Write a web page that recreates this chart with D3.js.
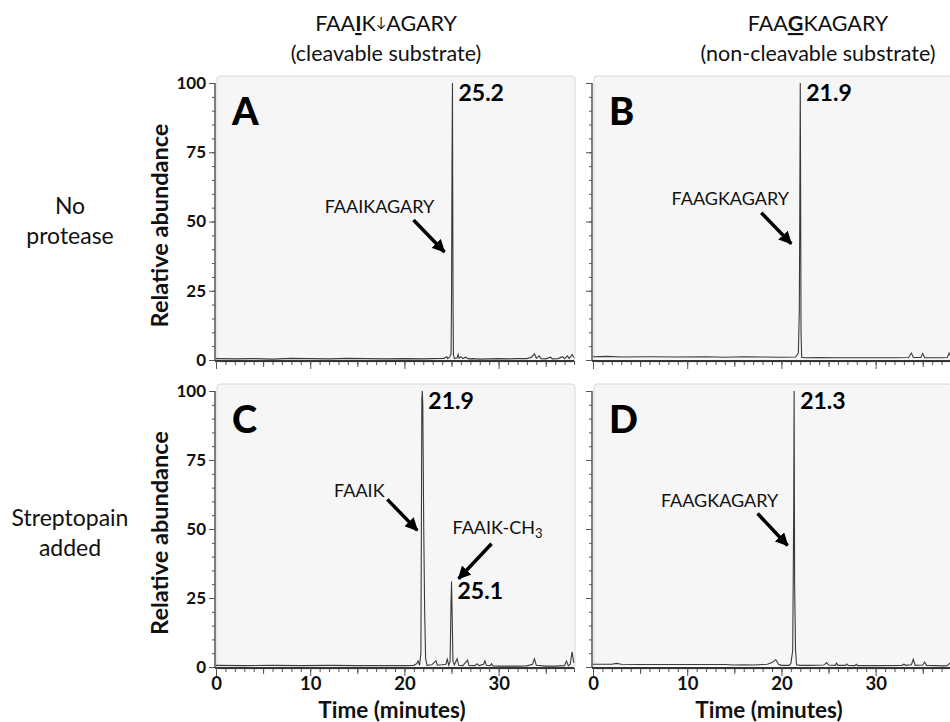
<!DOCTYPE html>
<html><head><meta charset="utf-8">
<script src="https://cdn.jsdelivr.net/npm/d3@7"></script>
<style>
html,body{margin:0;padding:0;background:#fff;}
svg{display:block;font-family:Lato,"Open Sans",sans-serif;}
</style></head>
<body>
<script>
// ---------- DATA ----------
const columnTitles = ["FAAIK↓AGARY", "FAAGKAGARY"];
const columnSubtitles = ["(cleavable substrate)", "(non-cleavable substrate)"];
const rowLabels = [["No", "protease"], ["Streptopain", "added"]];
const panelLetters = ["A", "B", "C", "D"];
const yMajorTicks = [0, 25, 50, 75, 100];
const xMajorTicks = [0, 10, 20, 30];
const xDomain = [0, 38];
const yAxisTitle = "Relative abundance";
const xAxisTitle = "Time (minutes)";

// Panel A: FAAIKAGARY, no protease
const timesA = [0,2,4,6,8,10,12,14,16,18,20,22,23,24.2,24.5,24.6,24.8,24.95,25.0,25.05,25.1,25.12,25.16,25.2,25.3,25.6,25.7,25.8,26.0,26.2,26.5,26.8,27.2,28,29,30,31,32,33,33.5,33.8,34.0,34.3,34.5,35,35.5,35.7,36.3,36.8,37.0,37.3,37.5,37.8,38];
const valuesA = [0.5,0.4,0.5,0.3,0.6,0.5,0.4,0.6,0.5,0.4,0.5,0.4,0.5,0.6,1.2,0.5,1.0,2,22,70,100,70,22,2,0.5,0.8,2.0,0.6,1.2,0.5,1.0,0.4,0.5,0.3,0.4,0.5,0.4,0.5,0.5,1.0,2.2,0.6,1.5,0.5,0.4,1.0,0.4,0.5,1.2,0.5,1.5,0.5,2.0,0.8];
// Panel B: FAAGKAGARY, no protease
const timesB = [0,1.5,3,6,9,12,14,16,18,20,21.5,21.8,21.9,21.95,22.0,22.03,22.08,22.15,22.5,24,26,28,30,32,33.5,33.8,34.0,34.8,35.0,35.2,36,37,37.6,37.8,38];
const valuesB = [1.2,1.3,1.1,1.2,1.1,1.2,1.0,1.2,1.1,1.0,1.1,2.5,18,55,100,70,10,1.0,0.8,0.9,0.8,0.8,0.8,0.8,0.9,2.5,0.9,0.9,2.3,0.8,0.8,0.8,0.9,2.5,1.0];
// Panel C: FAAIKAGARY + streptopain
const timesC = [0,3,6,9,12,15,18,20,21.0,21.3,21.45,21.6,21.75,21.85,21.9,21.95,22.05,22.15,22.25,22.4,22.9,23.2,23.35,23.5,24.0,24.4,24.55,24.7,24.85,24.95,25.0,25.05,25.15,25.3,25.6,25.75,26.2,26.7,26.85,27.5,27.7,27.9,28.4,28.55,28.7,29.1,29.25,29.4,30,31,32,33.0,33.6,33.8,34.0,35,36,37.0,37.2,37.4,37.6,37.8,37.95,38];
const valuesC = [0.6,0.5,0.6,0.5,0.6,0.5,0.5,0.5,0.6,1.2,2.2,0.6,5,97,100,95,50,20,3,0.6,0.8,1.8,2.3,0.7,0.8,1.0,2.8,0.7,2,24,31,22,2,0.8,3,0.6,0.5,2.5,0.6,0.5,1.2,0.5,1.0,2.2,0.6,0.5,1.2,0.4,0.3,0.3,0.3,0.4,1.0,3.0,0.6,0.3,0.3,0.5,2.2,0.4,1.0,5.5,2.0,1.5];
// Panel D: FAAGKAGARY + streptopain
const timesD = [0,2,2.5,3,5,8,11,14,15,16,17,18,18.5,19.0,19.4,19.7,20.0,20.8,21.0,21.2,21.3,21.35,21.4,21.5,21.6,22,23,24.5,24.8,25.0,25.7,25.85,26.0,26.8,26.95,27.1,27.8,27.95,28.1,30,32.8,33.0,33.2,33.8,34.0,34.2,35.0,35.2,35.4,36.5,37.3,37.6,37.9,38];
const valuesD = [1.0,1.0,1.3,1.0,0.9,0.9,0.9,0.9,0.7,0.8,0.7,0.9,1.0,1.6,2.6,1.0,0.6,0.6,1.2,6,55,100,30,6,0.8,0.6,0.6,0.7,1.6,0.7,0.6,1.4,0.6,0.6,1.1,0.6,0.5,1.0,0.5,0.5,0.6,1.0,0.6,0.8,2.8,0.6,0.7,1.8,0.6,0.5,0.4,0.5,1.5,1.0];

const peakLabels = [
  {panel:0, t:25.1, v:100, text:"25.2"},
  {panel:1, t:22.0, v:100, text:"21.9"},
  {panel:2, t:21.9, v:100, text:"21.9"},
  {panel:2, t:25.0, v:31,  text:"25.1"},
  {panel:3, t:21.35, v:100, text:"21.3"}
];
// arrow tip (data units) for each annotation
const annotations = [
  {panel:0, text:"FAAIKAGARY", t:25.1, v:39, tipDx:-8, dirX:-31, dirY:-32, tx:-65, ty:-39, anchor:"middle"},
  {panel:1, text:"FAAGKAGARY", t:22.0, v:42, tipDx:-9, dirX:-30, dirY:-31, tx:-61, ty:-39, anchor:"middle"},
  {panel:2, text:"FAAIK", t:21.9, v:49.5, tipDx:-5, dirX:-30, dirY:-31, tx:-58, ty:-33, anchor:"middle"},
  {panel:2, text:"FAAIK-CH", sub:"3", t:25.0, v:32, tipDx:7, dirX:33, dirY:-35, tx:-6, ty:-45, anchor:"start"},
  {panel:3, text:"FAAGKAGARY", t:21.4, v:44, tipDx:-7, dirX:-30, dirY:-32, tx:-68, ty:-39, anchor:"middle"}
];

// ---------- LAYOUT ----------
const W = 950, H = 722;
const panelW = 358;
const colX = [216, 593];
const rowY = [{top:83, bottom:360}, {top:391, bottom:667}];
const series = [[timesA, valuesA], [timesB, valuesB], [timesC, valuesC], [timesD, valuesD]];

const svg = d3.select("body").append("svg").attr("width", W).attr("height", H);

svg.append("defs").append("marker")
  .attr("id","arrowhead").attr("markerUnits","userSpaceOnUse")
  .attr("viewBox","0 0 12 12").attr("refX",11).attr("refY",6)
  .attr("markerWidth",13).attr("markerHeight",13).attr("orient","auto")
  .append("path").attr("d","M0,0 L12,6 L0,12 Z").attr("fill","#000");

const panels = [];
for (let r = 0; r < 2; r++) {
  for (let c = 0; c < 2; c++) {
    const idx = r*2 + c;
    const x = d3.scaleLinear().domain(xDomain).range([colX[c], colX[c] + panelW]);
    const y = d3.scaleLinear().domain([0, 100]).range([rowY[r].bottom, rowY[r].top]);
    panels.push({r, c, x, y});
    const g = svg.append("g");
    // background
    g.append("rect")
      .attr("x", colX[c] + 1).attr("y", rowY[r].top - 7)
      .attr("width", panelW).attr("height", rowY[r].bottom - rowY[r].top + 9)
      .attr("rx", 3).attr("fill", "#f6f6f6").attr("stroke", "#d6d6d6");
    // trace
    const [ts, vs] = series[idx];
    const pts = ts.map((t,i) => [t, vs[i]]);
    g.append("path").datum(pts)
      .attr("d", d3.line().x(d => x(d[0])).y(d => y(d[1])))
      .attr("fill","none").attr("stroke","#3a3a3a").attr("stroke-width",1.1);

    // y axis
    const axY = g.append("g").attr("transform", `translate(${colX[c]-1},0)`);
    axY.call(d3.axisLeft(y).tickValues(d3.range(0, 101, 5)).tickSize(3).tickFormat(""));
    axY.append("g").call(d3.axisLeft(y).tickValues(yMajorTicks).tickSize(6).tickPadding(3)
      .tickFormat(c === 0 ? d3.format("d") : ""));
    axY.selectAll(".domain").attr("stroke","#555");
    axY.selectAll(".tick line").attr("stroke","#555");
    axY.selectAll("text").attr("font-family","Lato").attr("font-weight","bold")
      .attr("font-size", 17).attr("fill","#111");
    axY.selectAll(".domain").attr("d", `M0,${rowY[r].top}V${rowY[r].bottom+1}`);

    // x axis
    const axX = g.append("g").attr("transform", `translate(0,${rowY[r].bottom+1})`);
    axX.call(d3.axisBottom(x).tickValues(d3.range(0, 39, 1)).tickSize(4).tickFormat(""));
    axX.append("g").call(d3.axisBottom(x).tickValues([5,15,25,35]).tickSize(6).tickFormat(""));
    axX.append("g").call(d3.axisBottom(x).tickValues(xMajorTicks).tickSize(8).tickPadding(1)
      .tickFormat(r === 1 ? d3.format("d") : ""));
    axX.selectAll(".domain").attr("stroke","#333").attr("stroke-width",1.3)
      .attr("d", `M${colX[c]-1},0H${colX[c]+panelW}`);
    axX.selectAll(".tick line").attr("stroke","#555");
    axX.selectAll("text").attr("font-family","Lato").attr("font-weight","bold")
      .attr("font-size", 18.5).attr("fill","#111");

    // panel letter
    g.append("text").attr("x", colX[c] + 16).attr("y", rowY[r].top + 42)
      .attr("font-size", 38).attr("font-weight","900").attr("fill","#000")
      .text(panelLetters[idx]);

    if (c === 0) {
      svg.append("text")
        .attr("transform", `translate(168,${(rowY[r].top + rowY[r].bottom)/2 + 4}) rotate(-90)`)
        .attr("text-anchor","middle").attr("font-size", 23.5).attr("font-weight","bold")
        .attr("fill","#111").text(yAxisTitle);
    }
    if (r === 1) {
      svg.append("text").attr("x", colX[c] + 176).attr("y", 718)
        .attr("text-anchor","middle").attr("font-size", 22.5).attr("font-weight","bold")
        .attr("fill","#111").text(xAxisTitle);
    }
  }
}

// peak labels
peakLabels.forEach(p => {
  const P = panels[p.panel];
  svg.append("text").attr("x", P.x(p.t) + 6).attr("y", P.y(p.v) + 18)
    .attr("font-size", 23).attr("font-weight","bold").attr("fill","#000").text(p.text);
});

// annotations
annotations.forEach(a => {
  const P = panels[a.panel];
  const tipX = P.x(a.t) + a.tipDx, tipY = P.y(a.v);
  svg.append("line").attr("x1", tipX + a.dirX).attr("y1", tipY + a.dirY)
    .attr("x2", tipX).attr("y2", tipY)
    .attr("stroke","#000").attr("stroke-width",3.5).attr("marker-end","url(#arrowhead)");
  const t = svg.append("text").attr("x", tipX + a.tx).attr("y", tipY + a.ty)
    .attr("text-anchor", a.anchor).attr("font-size", 18).attr("fill","#111").text(a.text);
  if (a.sub) t.append("tspan").attr("font-size", 13).attr("dy", 4).text(a.sub);
});

// column headers
const headX = [386, 818];
function header(i) {
  const t = svg.append("text").attr("x", headX[i]).attr("y", 31)
    .attr("text-anchor","middle").attr("font-size", 21.5).attr("fill","#111");
  if (i === 0) {
    t.append("tspan").text("FAA");
    t.append("tspan").attr("font-weight","bold").style("text-decoration","underline").text("I");
    t.append("tspan").text("K");
    t.append("tspan").attr("font-size", 14).attr("dy", -4).text("↓");
    t.append("tspan").attr("dy", 4).text("AGARY");
  } else {
    t.append("tspan").text("FAA");
    t.append("tspan").attr("font-weight","bold").style("text-decoration","underline").text("G");
    t.append("tspan").text("KAGARY");
  }
  svg.append("text").attr("x", headX[i]).attr("y", 61)
    .attr("text-anchor","middle").attr("font-size", 21.5).attr("fill","#111")
    .text(columnSubtitles[i]);
}
header(0); header(1);

// row labels
rowLabels.forEach((lines, r) => {
  const cy = r === 0 ? 214 : 526;
  lines.forEach((ln, k) => {
    svg.append("text").attr("x", 70).attr("y", cy + k*30)
      .attr("text-anchor","middle").attr("font-size", 23).attr("fill","#111").text(ln);
  });
});
</script>
</body></html>
